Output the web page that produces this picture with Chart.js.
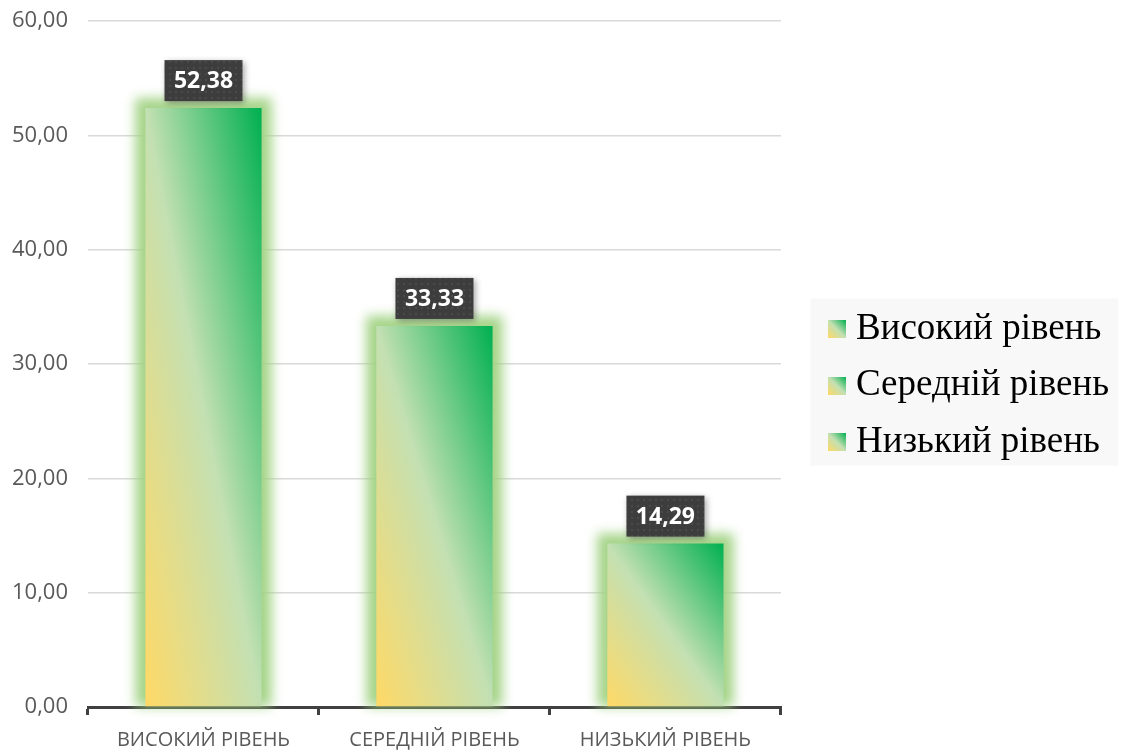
<!DOCTYPE html>
<html>
<head>
<meta charset="utf-8">
<script src="https://cdn.jsdelivr.net/npm/chart.js@4/dist/chart.umd.min.js"></script>
<style>
  html, body { margin: 0; padding: 0; background: #ffffff; }
  #wrap { width: 1123px; height: 751px; }
</style>
</head>
<body>
<div id="wrap"><canvas id="myChart" width="1123" height="751"></canvas></div>
<script>
// Дані діаграми
const categories = ["ВИСОКИЙ РІВЕНЬ", "СЕРЕДНІЙ РІВЕНЬ", "НИЗЬКИЙ РІВЕНЬ"];
const legendLabels = ["Високий рівень", "Середній рівень", "Низький рівень"];
const values = [52.38, 33.33, 14.29];
const yTicks = [0, 10, 20, 30, 40, 50, 60];

const BAR_PCT = 0.503;
const fmt = (v) => v.toFixed(2).replace(".", ",");

// Діагональний градієнт, масштабований по формі стовпця
function diagGradient(ctx, x0, y0, w, h) {
  const t = (2 * w * h) / (h * h + w * w);
  const g = ctx.createLinearGradient(x0, y0 + h, x0 + t * h, y0 + h - t * w);
  g.addColorStop(0, "#FFD966");
  g.addColorStop(0.5, "#C3E0B3");
  g.addColorStop(1, "#00B050");
  return g;
}

// Маленький квадратик для легенди
function legendSwatch() {
  const c = document.createElement("canvas");
  c.width = 18;
  c.height = 18;
  const cx = c.getContext("2d");
  cx.fillStyle = diagGradient(cx, 0, 0, 18, 18);
  cx.fillRect(0, 0, 18, 18);
  return c;
}
const swatch = legendSwatch();

// Візерунок для підписів
function dotPattern(ctx) {
  const c = document.createElement("canvas");
  c.width = 6;
  c.height = 6;
  const cx = c.getContext("2d");
  cx.fillStyle = "#3d3d3d";
  cx.fillRect(0, 0, 6, 6);
  cx.fillStyle = "#4a4a4a";
  cx.fillRect(1, 1, 2, 2);
  return ctx.createPattern(c, "repeat");
}

// Світіння навколо стовпців
const glowPlugin = {
  id: "glow",
  beforeDatasetDraw(chart) {
    const ctx = chart.ctx;
    const meta = chart.getDatasetMeta(0);
    ctx.save();
    ctx.filter = "blur(6px)";
    ctx.fillStyle = "rgba(160, 210, 130, 0.95)";
    meta.data.forEach((bar) => {
      const left = bar.x - bar.width / 2;
      ctx.fillRect(left - 10, bar.y - 10, bar.width + 20, bar.base - bar.y + 10);
    });
    ctx.restore();
  },
};

const labelPlugin = {
  id: "valueLabels",
  afterDatasetsDraw(chart) {
    const ctx = chart.ctx;
    const meta = chart.getDatasetMeta(0);
    ctx.save();
    ctx.font = "bold 23px 'Open Sans'";
    meta.data.forEach((bar, i) => {
      const txt = fmt(values[i]);
      const w = 78, h = 41;
      const x = bar.x - w / 2;
      const y = bar.y - 7 - h;
      ctx.shadowColor = "rgba(0,0,0,0.35)";
      ctx.shadowBlur = 6;
      ctx.shadowOffsetX = 2;
      ctx.shadowOffsetY = 2;
      ctx.fillStyle = dotPattern(ctx);
      ctx.fillRect(x, y, w, h);
      ctx.shadowColor = "transparent";
      ctx.fillStyle = "#ffffff";
      ctx.textAlign = "center";
      ctx.textBaseline = "middle";
      ctx.fillText(txt, bar.x, y + h / 2 + 1);
    });
    ctx.restore();
  },
};

const legendBgPlugin = {
  id: "legendBg",
  beforeDraw(chart) {
    const lg = chart.legend;
    if (!lg || !lg.legendHitBoxes || !lg.legendHitBoxes.length) return;
    const hb = lg.legendHitBoxes;
    const minX = Math.min(...hb.map((b) => b.left));
    const minY = Math.min(...hb.map((b) => b.top));
    const maxY = Math.max(...hb.map((b) => b.top + b.height));
    const ctx = chart.ctx;
    ctx.save();
    ctx.fillStyle = "#F8F8F8";
    ctx.fillRect(minX - 26, minY - 12, 308, maxY - minY + 17);
    ctx.restore();
  },
};

const config = {
  type: "bar",
  data: {
    labels: categories,
    datasets: [
      {
        label: "Рівень",
        data: values,
        backgroundColor: (c) => {
          const chart = c.chart;
          const xs = chart.scales.x;
          const ys = chart.scales.y;
          if (c.type !== "data" || !chart.chartArea || !xs || !ys) return "#00B050";
          const w = (xs.width / categories.length) * BAR_PCT;
          const cx = xs.getPixelForValue(c.dataIndex);
          const top = ys.getPixelForValue(c.raw);
          const base = ys.getPixelForValue(0);
          if (![w, cx, top, base].every(Number.isFinite) || base - top < 1) return "#00B050";
          return diagGradient(chart.ctx, cx - w / 2, top, w, base - top);
        },
        borderWidth: 0,
        barPercentage: BAR_PCT,
        categoryPercentage: 1,
      },
    ],
  },
  options: {
    responsive: false,
    animation: false,
    layout: { padding: { top: -14, right: 4, left: 6, bottom: -14 } },
    scales: {
      x: {
        grid: {
          offset: true,
          drawOnChartArea: false,
          drawTicks: true,
          tickLength: 8,
          color: "#404040",
          lineWidth: 3,
        },
        border: { color: "#404040", width: 3 },
        ticks: {
          color: "#595959",
          font: { family: "'Open Sans'", size: 20, lineHeight: 1 },
          padding: 15,
        },
      },
      y: {
        min: 0,
        max: 60,
        afterBuildTicks: (axis) => {
          axis.ticks = yTicks.map((v) => ({ value: v }));
        },
        afterFit: (axis) => {
          axis.width = 82;
          axis.paddingTop = 21;
          axis.paddingBottom = 0;
        },
        grid: { color: "#D9D9D9", lineWidth: 1.5, drawTicks: false },
        border: { display: false },
        ticks: {
          color: "#595959",
          font: { family: "'Open Sans'", size: 22 },
          padding: 20,
          callback: (v) => fmt(v),
        },
      },
      // порожнє місце між графіком і легендою
      gap: {
        position: "right",
        display: true,
        grid: { display: false, drawTicks: false },
        border: { display: false },
        ticks: { display: false },
        afterFit: (axis) => {
          axis.width = 36;
          axis.paddingTop = 0;
          axis.paddingBottom = 0;
        },
      },
    },
    plugins: {
      tooltip: { enabled: false },
      legend: {
        position: "right",
        maxWidth: 340,
        title: { display: true, text: " ", font: { size: 10 }, padding: 4 },
        labels: {
          usePointStyle: true,
          boxWidth: 1,
          padding: 19.5,
          color: "#000000",
          font: { family: "'Liberation Serif'", size: 37 },
          generateLabels: () =>
            legendLabels.map((t, i) => ({
              text: t,
              pointStyle: swatch,
              fillStyle: "#00B050",
              strokeStyle: "transparent",
              fontColor: "#000000",
              lineWidth: 0,
              hidden: false,
              index: i,
              datasetIndex: 0,
            })),
        },
      },
    },
  },
  plugins: [legendBgPlugin, glowPlugin, labelPlugin],
};

new Chart(document.getElementById("myChart"), config);
</script>
</body>
</html>
